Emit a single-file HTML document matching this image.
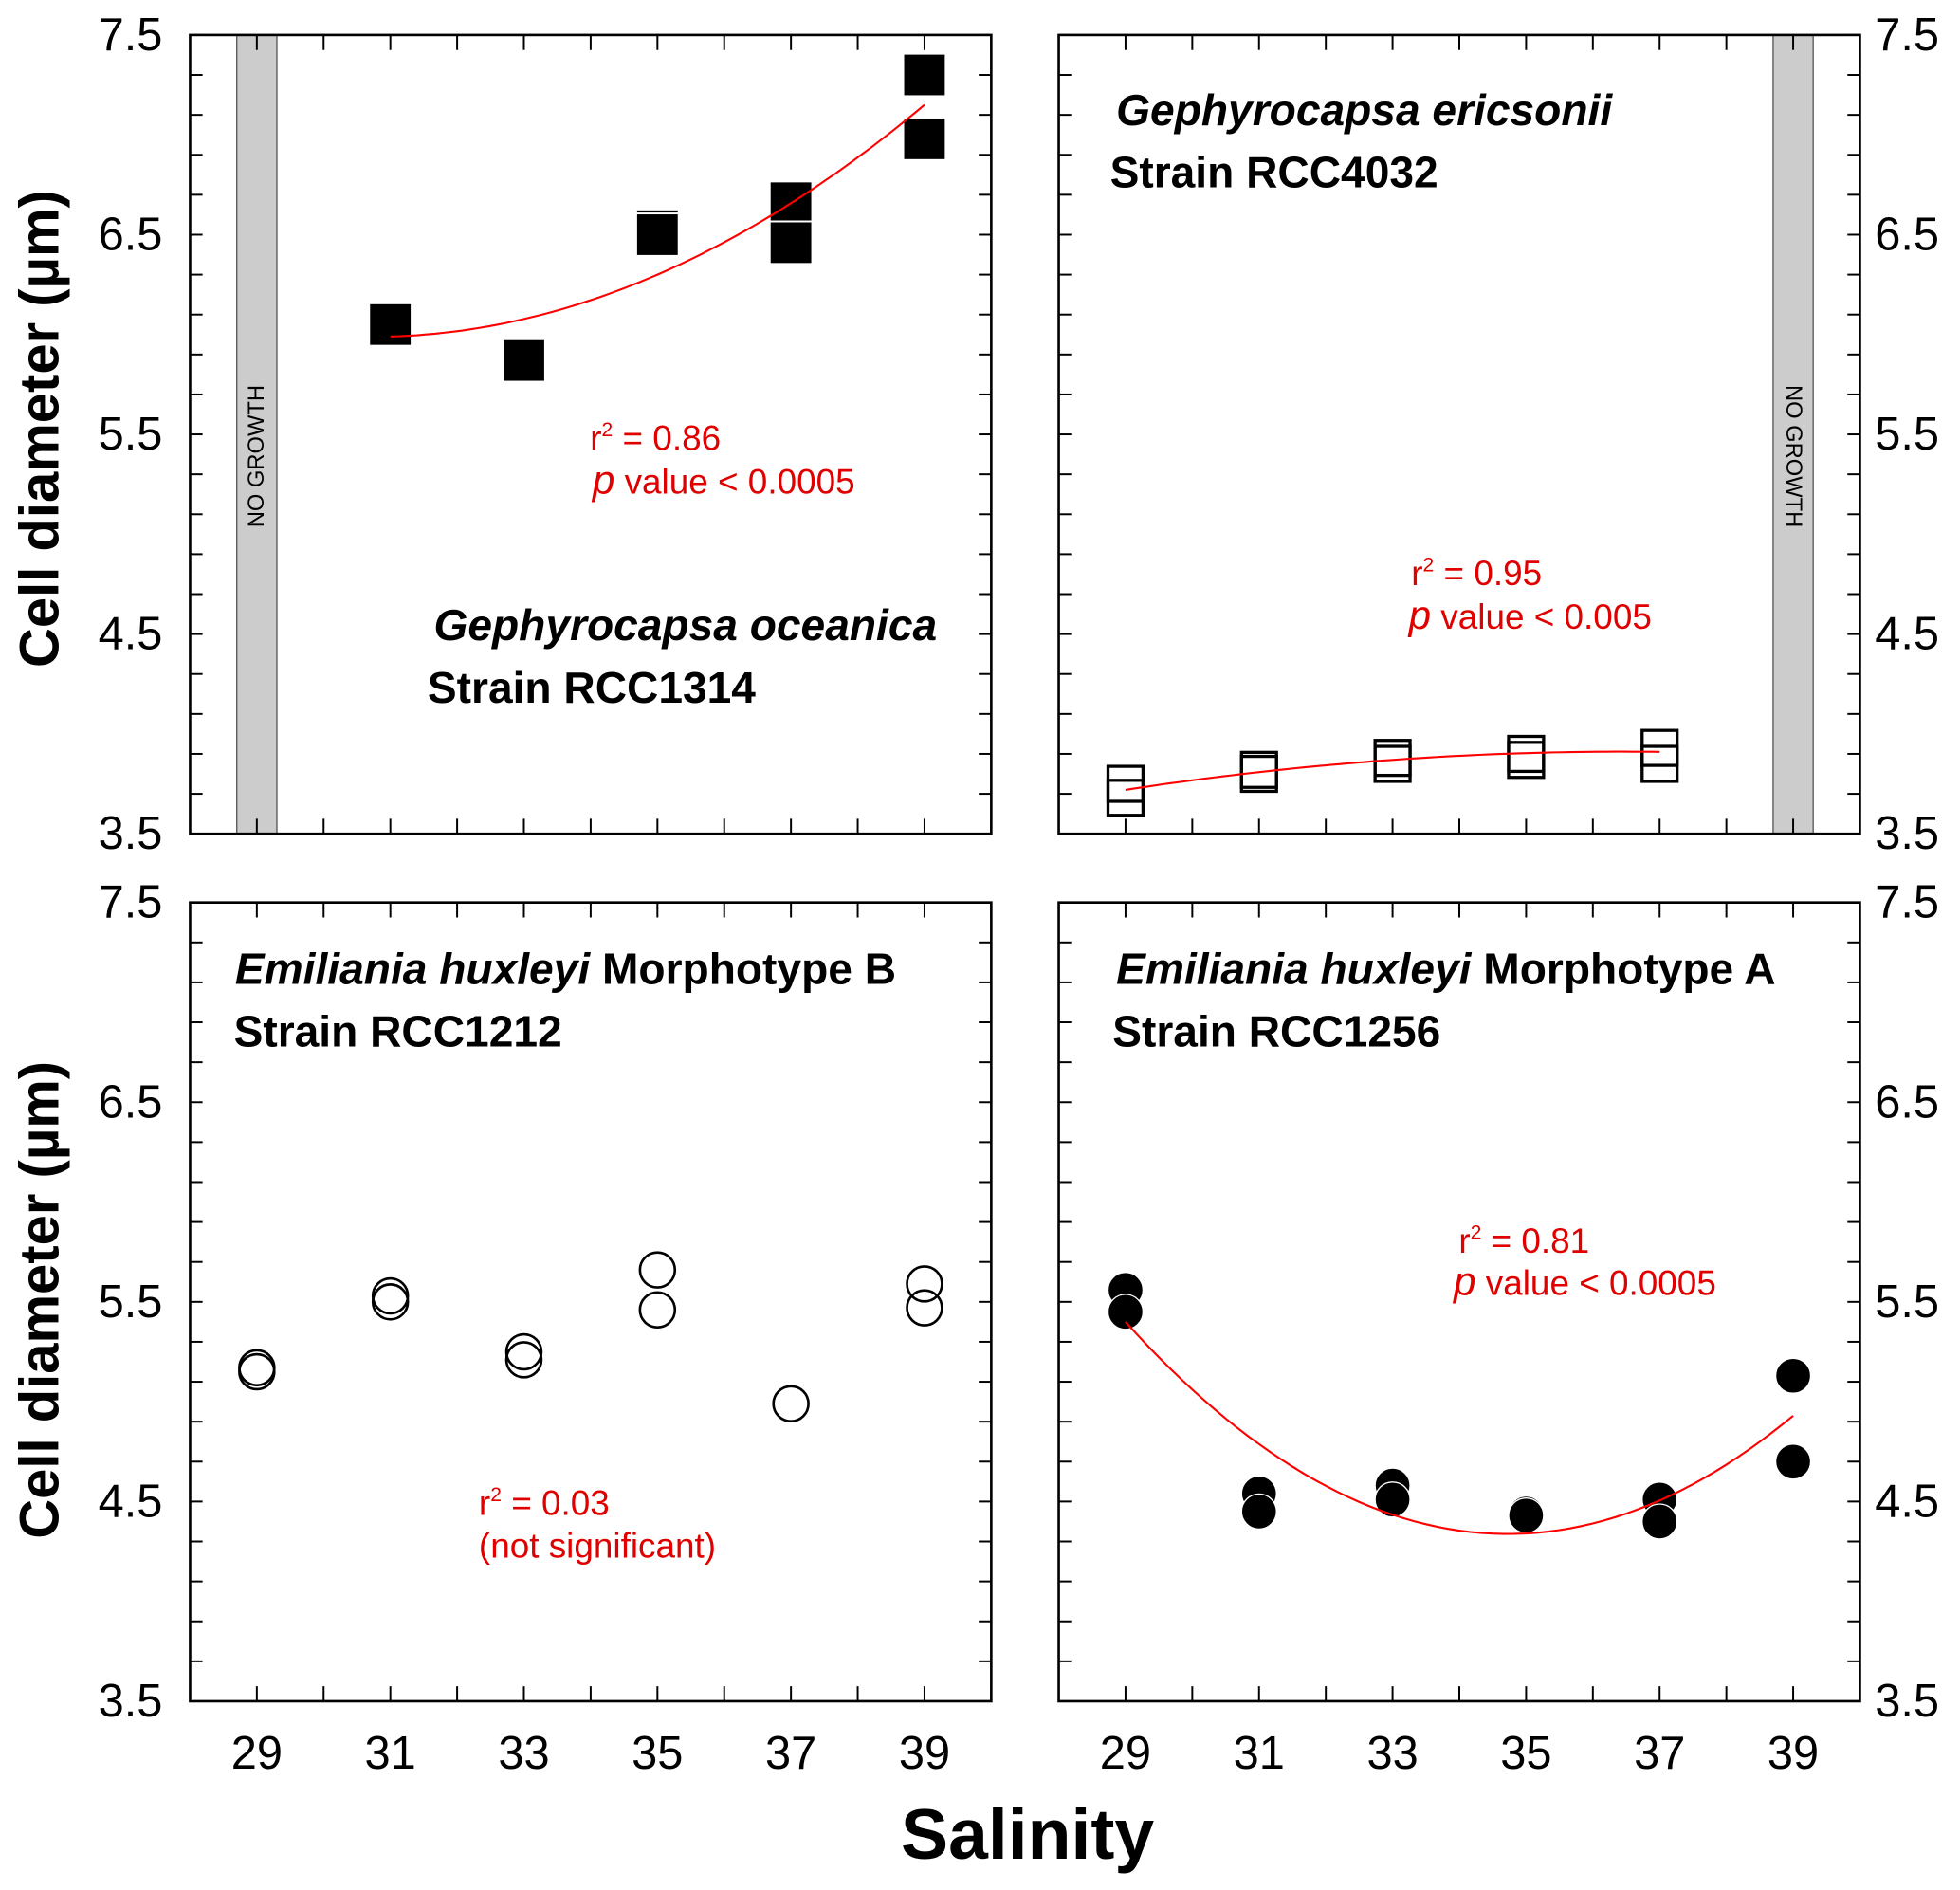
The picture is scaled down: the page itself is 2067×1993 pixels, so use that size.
<!DOCTYPE html>
<html><head><meta charset="utf-8"><style>
html,body{margin:0;padding:0;background:#fff;}
svg{display:block;}
text{font-family:"Liberation Sans",Arial,sans-serif;}
</style></head><body>
<svg id="fig" width="2067" height="1993" viewBox="0 0 1568 1512"></svg>
<script>
const salinityTicks=[29,31,33,35,37,39];
const yTickLabels=[3.5,4.5,5.5,6.5,7.5];
const tlX=[31,33,35,35,37,37,39,39];
const tlY=[6.05,5.87,6.52,6.50,6.66,6.46,7.30,6.98];
const tlFitX=[31,35,39];const tlFitY=[5.99,6.30,7.15];
const trX=[29,29,31,31,33,33,35,35,37,37];
const trY=[3.75,3.68,3.82,3.80,3.88,3.85,3.90,3.87,3.93,3.85];
const trFitX=[29,33,37];const trFitY=[3.72,3.87,3.91];
const blX=[29,29,31,31,33,33,35,35,37,39,39];
const blY=[5.17,5.15,5.53,5.50,5.25,5.21,5.66,5.46,4.99,5.59,5.47];
const brX=[29,29,31,31,33,33,35,35,37,37,39,39];
const brY=[5.56,5.45,4.54,4.45,4.58,4.51,4.44,4.43,4.51,4.40,5.13,4.70];
const brFitX=[29,35,39];const brFitY=[5.40,4.34,4.93];

const NS='http://www.w3.org/2000/svg';
const svg=document.getElementById('fig');
function el(tag,attrs,parent){const e=document.createElementNS(NS,tag);for(const k in attrs)e.setAttribute(k,attrs[k]);(parent||svg).appendChild(e);return e;}
function lag(xs,ys,x){let s=0;for(let i=0;i<3;i++){let t=ys[i];for(let j=0;j<3;j++)if(j!==i)t*=(x-xs[j])/(xs[i]-xs[j]);s+=t;}return s;}

function panel(name,x0,y0,rightLabels,band){
  const W=641,H=639;
  const g=el('g',{});
  
  
  const sx=v=>x0+(v-28)/12*W;
  const sy=v=>y0+(7.5-v)/4*H;
  if(band!==null){
    const b=el('rect',{x:sx(band-0.3),y:y0,width:sx(band+0.3)-sx(band-0.3),height:H,fill:'#cccccc',stroke:'#555','stroke-width':1},g);
    
    
    const cx=(sx(band-0.3)+sx(band+0.3))/2, cy=y0+337;
    const t=el('text',{x:cx,y:cy,'font-size':18,'text-anchor':'middle','dominant-baseline':'central',transform:`rotate(${rightLabels?90:-90} ${cx} ${cy})`},g);
    t.textContent='NO GROWTH';
    
    
  }
  for(let v=28;v<=40;v++){
    el('line',{x1:sx(v),x2:sx(v),y1:y0+H,y2:y0+H-12,stroke:'#000','stroke-width':1.5},g);
    el('line',{x1:sx(v),x2:sx(v),y1:y0,y2:y0+12,stroke:'#000','stroke-width':1.5},g);
  }
  for(let k=0;k<=20;k++){
    const v=3.5+k*0.2;
    el('line',{x1:x0,x2:x0+10,y1:sy(v),y2:sy(v),stroke:'#000','stroke-width':1.5},g);
    el('line',{x1:x0+W,x2:x0+W-10,y1:sy(v),y2:sy(v),stroke:'#000','stroke-width':1.5},g);
  }
  const fr=el('rect',{x:x0,y:y0,width:W,height:H,fill:'none',stroke:'#000','stroke-width':2},g);
  
  
  yTickLabels.forEach(v=>{
    const t=el('text',{x:rightLabels?x0+W+12:x0-22,y:sy(v),'font-size':37,'text-anchor':rightLabels?'start':'end','dominant-baseline':'central'},g);
    t.textContent=v.toFixed(1);
    
    
  });
  return {g,sx,sy};
}
function fit(p,xs,ys,a,b){
  let d='';for(let i=0;i<=60;i++){const x=a+(b-a)*i/60;d+=(i?'L':'M')+p.sx(x).toFixed(1)+','+p.sy(lag(xs,ys,x)).toFixed(1);}
  const l=el('path',{d,fill:'none',stroke:'#ff0000','stroke-width':1.6},p.g);
  
  
}
function txt(p,x,y,html,size,opts){
  const t=el('text',Object.assign({x,y,'font-size':size},opts||{}),p.g);t.innerHTML=html;
  
  
  return t;
}
const RS=28, SS=35;
const sup=n=>`r<tspan font-size="16" dy="-11">2</tspan><tspan dy="11"> = ${n}</tspan>`;

const p1=panel('panel-g-oceanica',152,28,false,29);
tlX.forEach((x,i)=>{const s=34;const r=el('rect',{x:p1.sx(x)-s/2,y:p1.sy(tlY[i])-s/2,width:s,height:s,fill:'#000',stroke:'#fff','stroke-width':1.5},p1.g);

});
fit(p1,tlFitX,tlFitY,31,39);
txt(p1,472,360,sup('0.86'),RS,{fill:'#e00000'});
txt(p1,474,395,'<tspan font-style="italic" font-size="32">p</tspan> value &lt; 0.0005',RS,{fill:'#e00000'});
txt(p1,347,512,'Gephyrocapsa oceanica',SS,{'font-weight':'bold','font-style':'italic'});
txt(p1,342,562,'Strain RCC1314',SS,{'font-weight':'bold'});

const p2=panel('panel-g-ericsonii',847,28,true,39);
trX.forEach((x,i)=>{const s=28;const r=el('rect',{x:p2.sx(x)-s/2,y:p2.sy(trY[i])-s/2,width:s,height:s,fill:'none',stroke:'#000','stroke-width':2.5},p2.g);

});
fit(p2,trFitX,trFitY,29,37);
txt(p2,893,100,'Gephyrocapsa ericsonii',SS,{'font-weight':'bold','font-style':'italic'});
txt(p2,888,150,'Strain RCC4032',SS,{'font-weight':'bold'});
txt(p2,1129,468,sup('0.95'),RS,{fill:'#e00000'});
txt(p2,1127,503,'<tspan font-style="italic" font-size="32">p</tspan>  value &lt; 0.005',RS,{fill:'#e00000'});

const p3=panel('panel-e-huxleyi-b',152,722,false,null);
blX.forEach((x,i)=>{const c=el('circle',{cx:p3.sx(x),cy:p3.sy(blY[i]),r:14,fill:'none',stroke:'#000','stroke-width':2},p3.g);

});
txt(p3,188,787,'<tspan font-style="italic">Emiliania huxleyi</tspan> Morphotype B',SS,{'font-weight':'bold'});
txt(p3,187,837,'Strain RCC1212',SS,{'font-weight':'bold'});
txt(p3,383,1212,sup('0.03'),RS,{fill:'#e00000'});
txt(p3,383,1246,'(not significant)',RS,{fill:'#e00000'});

const p4=panel('panel-e-huxleyi-a',847,722,true,null);
brX.forEach((x,i)=>{const c=el('circle',{cx:p4.sx(x),cy:p4.sy(brY[i]),r:14,fill:'#000',stroke:'#fff','stroke-width':1},p4.g);

});
fit(p4,brFitX,brFitY,29,39);
txt(p4,893,787,'<tspan font-style="italic">Emiliania huxleyi</tspan> Morphotype A',SS,{'font-weight':'bold'});
txt(p4,890,837,'Strain RCC1256',SS,{'font-weight':'bold'});
txt(p4,1167,1002,sup('0.81'),RS,{fill:'#e00000'});
txt(p4,1163,1036,'<tspan font-style="italic" font-size="32">p</tspan>  value &lt; 0.0005',RS,{fill:'#e00000'});

[p3,p4].forEach(p=>salinityTicks.forEach(v=>{
  const t=el('text',{x:p.sx(v),y:1415,'font-size':37,'text-anchor':'middle'},svg);
  t.textContent=v;
  
  
}));
const xt=el('text',{x:822,y:1487,'font-size':57,'font-weight':'bold','text-anchor':'middle'});
xt.textContent='Salinity';


[343,1040].forEach(cy=>{
  const t=el('text',{x:32,y:cy,'font-size':44,'font-weight':'bold','text-anchor':'middle','dominant-baseline':'central',transform:`rotate(-90 32 ${cy})`});
  t.textContent='Cell diameter (µm)';
  
  
});
</script>
</body></html>
